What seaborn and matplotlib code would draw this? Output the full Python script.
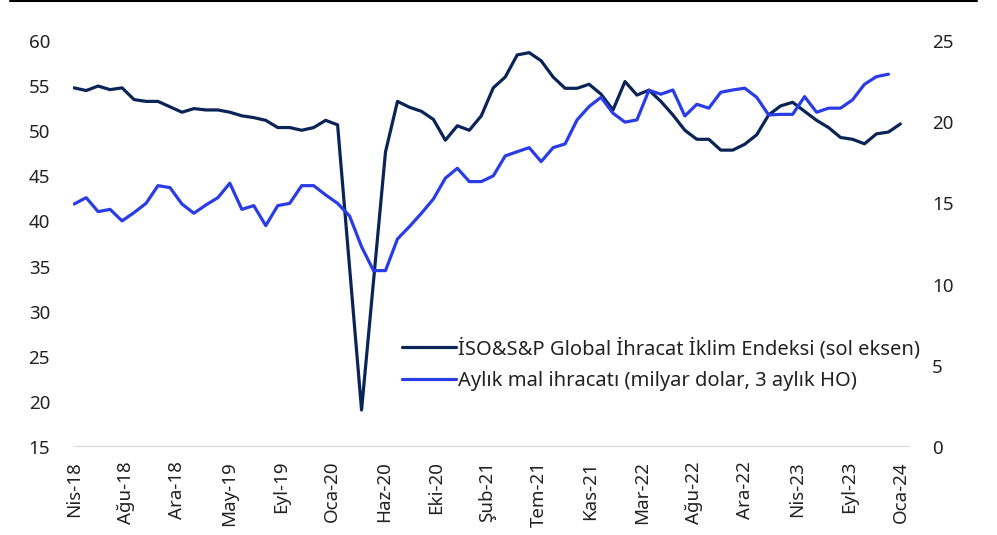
import numpy as np
import pandas as pd
import matplotlib
matplotlib.use("Agg")
import matplotlib.pyplot as plt
from matplotlib.lines import Line2D
import seaborn as sns

# ==========================================
# 1. VERİ (Nis-18 ... Oca-24, aylık)
# ==========================================
# İSO&S&P Global İhracat İklim Endeksi (sol eksen)
iklim_endeksi = [
    54.8, 54.5, 55.0, 54.6, 54.8, 53.5, 53.3, 53.3, 52.7, 52.1,
    52.5, 52.35, 52.35, 52.1, 51.7, 51.5, 51.2, 50.4, 50.4, 50.1,
    50.4, 51.2, 50.7, 34.9, 19.1, 33.4, 47.7, 53.3, 52.65, 52.2,
    51.3, 49.0, 50.6, 50.1, 51.7, 54.8, 56.0, 58.45, 58.7, 57.8,
    56.0, 54.75, 54.75, 55.2, 54.1, 52.35, 55.5, 54.0, 54.55, 53.3,
    51.8, 50.1, 49.1, 49.1, 47.9, 47.9, 48.55, 49.6, 51.8, 52.8,
    53.2, 52.2, 51.2, 50.4, 49.3, 49.1, 48.6, 49.7, 49.9, 50.8,
]

# Aylık mal ihracatı, milyar dolar, 3 aylık HO (sağ eksen) - Ara-23'e kadar
mal_ihracati = [
    14.96, 15.35, 14.49, 14.63, 13.92, 14.43, 15.0, 16.09, 15.97, 14.96,
    14.39, 14.9, 15.35, 16.24, 14.63, 14.86, 13.63, 14.86, 15.0, 16.09,
    16.09, 15.52, 15.0, 14.22, 12.33, 10.86, 10.86, 12.81, 13.57, 14.39,
    15.27, 16.55, 17.16, 16.34, 16.34, 16.69, 17.92, 18.18, 18.43, 17.57,
    18.43, 18.66, 20.14, 20.96, 21.53, 20.55, 20.0, 20.14, 21.96, 21.72,
    21.98, 20.38, 21.1, 20.86, 21.84, 21.98, 22.09, 21.53, 20.44, 20.48,
    20.48, 21.57, 20.61, 20.86, 20.86, 21.37, 22.33, 22.8, 22.95,
]

x_etiketleri = ["Nis-18", "Ağu-18", "Ara-18", "May-19", "Eyl-19", "Oca-20",
                "Haz-20", "Eki-20", "Şub-21", "Tem-21", "Kas-21", "Mar-22",
                "Ağu-22", "Ara-22", "Nis-23", "Eyl-23", "Oca-24"]

ad_endeks = "İSO&S&P Global İhracat İklim Endeksi (sol eksen)"
ad_ihracat = "Aylık mal ihracatı (milyar dolar, 3 aylık HO)"

df_endeks = pd.DataFrame({"x": np.arange(len(iklim_endeksi)), "deger": iklim_endeksi})
df_ihracat = pd.DataFrame({"x": np.arange(len(mal_ihracati)), "deger": mal_ihracati})

# ==========================================
# 2. GRAFİK
# ==========================================
sns.set_theme(style="white")
plt.rcParams["font.family"] = ["Noto Sans", "DejaVu Sans"]

koyu = "#0b2457"
mavi = "#2a3ce6"
yazi_rengi = "#222222"

fig = plt.figure(figsize=(9.97, 5.35), dpi=100)
ax = fig.add_axes([0.0732, 0.1645, 0.8395, 0.759])
ax2 = ax.twinx()

sns.lineplot(data=df_endeks, x="x", y="deger", ax=ax, color=koyu, linewidth=2.3)
sns.lineplot(data=df_ihracat, x="x", y="deger", ax=ax2, color=mavi, linewidth=2.3)

ax.set_ylim(15, 60)
ax2.set_ylim(0, 25)
ax.set_xlim(-0.1, 69.8)
ax.set_yticks(range(15, 61, 5))
ax2.set_yticks(range(0, 26, 5))
ax.set_xticks(np.linspace(0, len(iklim_endeksi) - 1, len(x_etiketleri)))
ax.set_xticklabels(x_etiketleri, rotation=90)

for a in (ax, ax2):
    a.set_xlabel("")
    a.set_ylabel("")
    for s in a.spines.values():
        s.set_visible(False)
    a.tick_params(length=0, labelsize=13.5, colors=yazi_rengi)
ax.tick_params(axis="y", pad=16.5)
ax2.tick_params(axis="y", pad=16)
ax.tick_params(axis="x", pad=10)

# sadece alt çizgi (15 seviyesi)
ax.axhline(15, color="#d9d9d9", linewidth=1.6, zorder=0)

# lejant
handles = [Line2D([], [], color=koyu, linewidth=2.3),
           Line2D([], [], color=mavi, linewidth=2.3)]
ax2.legend(handles, [ad_endeks, ad_ihracat], loc="upper left",
           bbox_to_anchor=(0.393, 0.27), frameon=False, fontsize=14.5,
           handlelength=2.7, handletextpad=0.1, labelspacing=0.62,
           labelcolor=yazi_rengi, borderaxespad=0, borderpad=0)

# üstteki siyah çizgi
fig.add_artist(Line2D([0.01, 0.98], [0.998, 0.998], color="black", linewidth=1.5,
                      transform=fig.transFigure))

fig.savefig("out.png", dpi=100)
